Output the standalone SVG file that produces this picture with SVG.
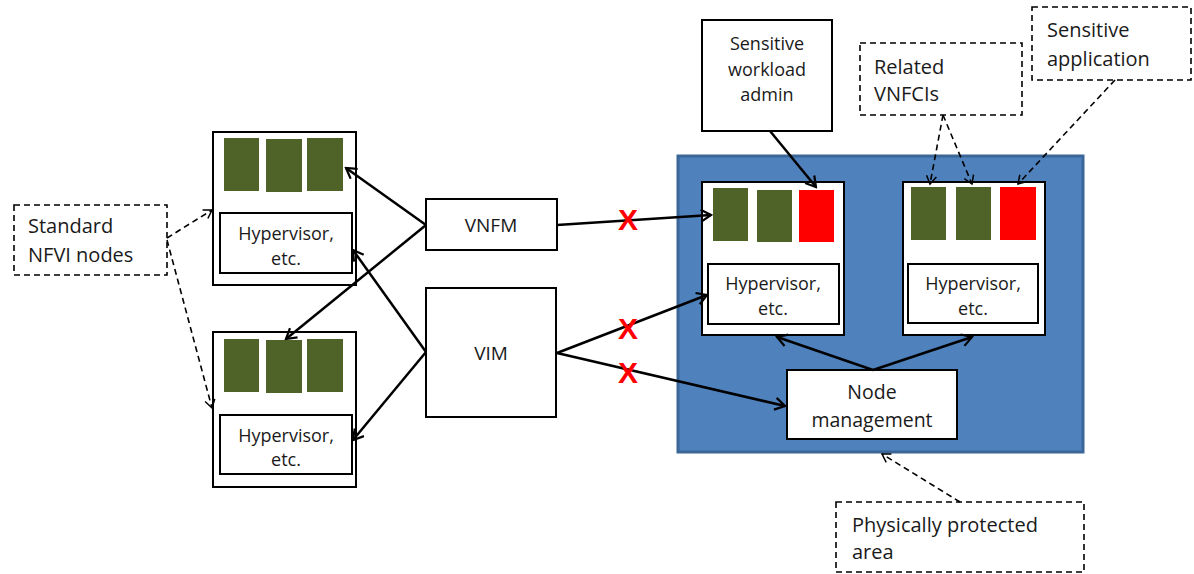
<svg xmlns="http://www.w3.org/2000/svg" width="1194" height="574" viewBox="0 0 1194 574">
<style>
.t{font-family:"Open Sans","Liberation Sans",sans-serif;font-size:18px;fill:#1a1a1a}
.l{font-size:20px}
.c{text-anchor:middle}
.box{fill:#fff;stroke:#000;stroke-width:2}
.dbox{fill:#fff;stroke:#000;stroke-width:1.6;stroke-dasharray:6,4}
.g{fill:#4f6228}
.r{fill:#ff0000}
.a{fill:none;stroke:#000;stroke-width:2.5;marker-end:url(#ah)}
.d{fill:none;stroke:#000;stroke-width:1.6;stroke-dasharray:6,4;marker-end:url(#dh)}
.x{font-family:"Liberation Sans",sans-serif;font-weight:bold;font-size:30px;fill:#ff0000;text-anchor:middle}
</style>
<defs>
<marker id="ah" markerWidth="14" markerHeight="14" refX="12" refY="7" orient="auto" markerUnits="userSpaceOnUse">
<path d="M2,1 L12,7 L2,13" fill="none" stroke="#000" stroke-width="2.2"/>
</marker>
<marker id="dh" markerWidth="12" markerHeight="12" refX="10" refY="6" orient="auto" markerUnits="userSpaceOnUse">
<path d="M2,1 L10,6 L2,11" fill="none" stroke="#000" stroke-width="1.5"/>
</marker>
</defs>
<rect width="1194" height="574" fill="#fff"/>
<g id="protected-area">
<rect x="678" y="156" width="405" height="296" fill="#4f81bd" stroke="#3a6698" stroke-width="3"/>
</g>
<g id="nfvi-top">
<rect class="box" x="213" y="132" width="143" height="153"/>
<rect class="g" x="224" y="138" width="35" height="53"/>
<rect class="g" x="266" y="139" width="36" height="53"/>
<rect class="g" x="307" y="138" width="36" height="53"/>
<rect class="box" x="220" y="213" width="132" height="60"/>
<text class="t c" x="286" y="240">Hypervisor,</text>
<text class="t c" x="286" y="265">etc.</text>
</g>
<g id="nfvi-bottom">
<rect class="box" x="213" y="332" width="143" height="155"/>
<rect class="g" x="224" y="339" width="35" height="53"/>
<rect class="g" x="266" y="340" width="36" height="53"/>
<rect class="g" x="307" y="339" width="36" height="53"/>
<rect class="box" x="220" y="415" width="132" height="59"/>
<text class="t c" x="286" y="442">Hypervisor,</text>
<text class="t c" x="286" y="466">etc.</text>
</g>
<g id="standard-nfvi-label">
<rect class="dbox" x="14" y="205" width="153" height="70"/>
<text class="t l" x="28" y="233">Standard</text>
<text class="t l" x="28" y="262">NFVI nodes</text>
</g>
<g id="vnfm">
<rect class="box" x="426" y="199" width="131" height="51"/>
<text class="t c" x="491" y="232" style="font-size:19px">VNFM</text>
</g>
<g id="vim">
<rect class="box" x="426" y="288" width="130" height="129"/>
<text class="t c" x="491" y="360" style="font-size:19px">VIM</text>
</g>
<g id="secure-node-1">
<rect class="box" x="702" y="182" width="142" height="153"/>
<rect class="g" x="713" y="188" width="35" height="53"/>
<rect class="g" x="757" y="190" width="35" height="52"/>
<rect class="r" x="799" y="190" width="35" height="52"/>
<rect class="box" x="708" y="264" width="131" height="60"/>
<text class="t c" x="773" y="290">Hypervisor,</text>
<text class="t c" x="773" y="315">etc.</text>
</g>
<g id="secure-node-2">
<rect class="box" x="903" y="182" width="142" height="153"/>
<rect class="g" x="911" y="187" width="35" height="53"/>
<rect class="g" x="956" y="187" width="35" height="53"/>
<rect class="r" x="1000" y="187" width="36" height="53"/>
<rect class="box" x="908" y="264" width="130" height="59"/>
<text class="t c" x="973" y="290">Hypervisor,</text>
<text class="t c" x="973" y="315">etc.</text>
</g>
<g id="node-management">
<rect class="box" x="787" y="370" width="170" height="69"/>
<text class="t c" x="872" y="399" style="font-size:19.5px">Node</text>
<text class="t c" x="872" y="427" style="font-size:19.5px">management</text>
</g>
<g id="sensitive-workload-admin">
<rect class="box" x="702" y="20" width="130" height="111"/>
<text class="t c" x="767" y="50">Sensitive</text>
<text class="t c" x="767" y="76">workload</text>
<text class="t c" x="767" y="101">admin</text>
</g>
<g id="related-vnfcis">
<rect class="dbox" x="860" y="43" width="162" height="72"/>
<text class="t l" x="874" y="74">Related</text>
<text class="t l" x="874" y="101">VNFCIs</text>
</g>
<g id="sensitive-application">
<rect class="dbox" x="1032" y="7" width="159" height="73"/>
<text class="t l" x="1047" y="37">Sensitive</text>
<text class="t l" x="1047" y="66">application</text>
</g>
<g id="physically-protected-label">
<rect class="dbox" x="836" y="502" width="248" height="70"/>
<text class="t l" x="852" y="532">Physically protected</text>
<text class="t l" x="852" y="559">area</text>
</g>
<g id="connectors">
<path class="a" d="M426,225 L346,168"/>
<path class="a" d="M426,225 L286,339"/>
<path class="a" d="M426,352 L353,250"/>
<path class="a" d="M426,352 L353,440"/>
<path class="a" d="M557,225 L711,215"/>
<path class="a" d="M557,353 L707,295"/>
<path class="a" d="M557,353 L785,406"/>
<path class="a" d="M873,370 L777,337"/>
<path class="a" d="M873,370 L972,337"/>
<path class="a" d="M770,131 L816,187"/>
<path class="d" d="M167,238 L212,210"/>
<path class="d" d="M167,240 L212,408"/>
<path class="d" d="M943,115 L930,184"/>
<path class="d" d="M943,115 L972,184"/>
<path class="d" d="M1115,80 L1018,184"/>
<path class="d" d="M960,502 L882,454"/>
<text class="x" x="628" y="230">X</text>
<text class="x" x="628" y="339">X</text>
<text class="x" x="628" y="383">X</text>
</g>
</svg>
